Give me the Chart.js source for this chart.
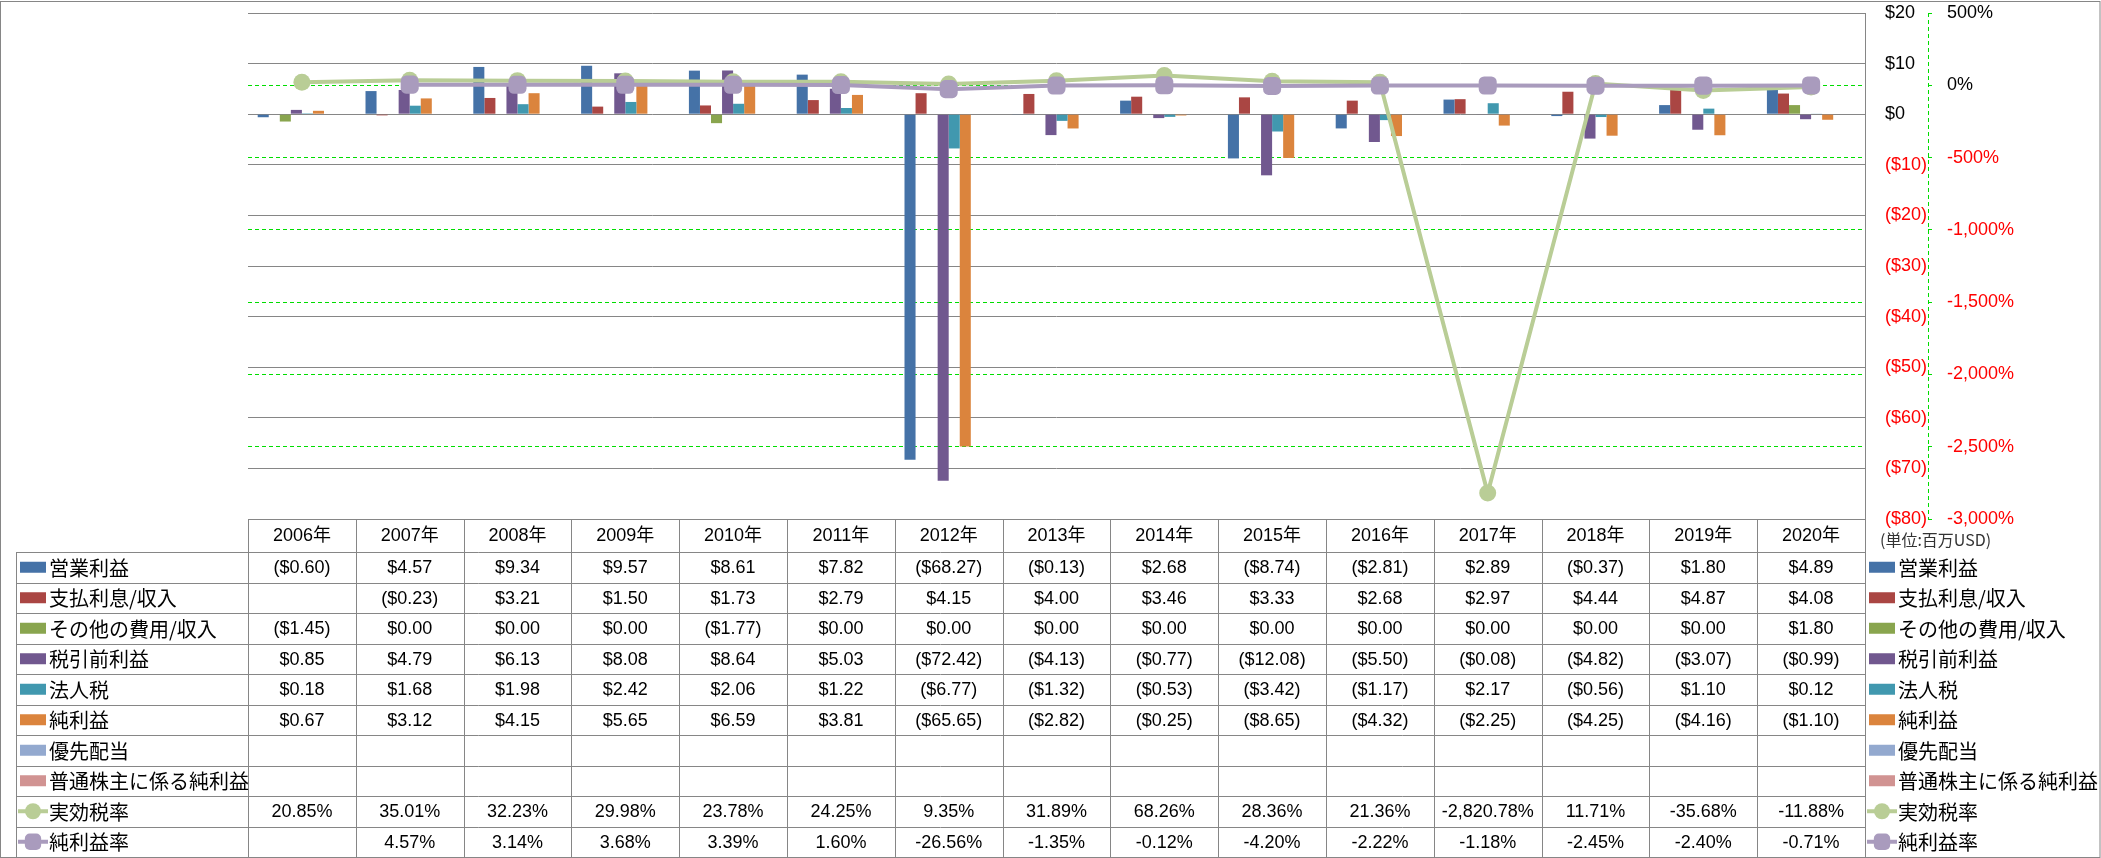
<!DOCTYPE html>
<html lang="ja">
<head>
<meta charset="utf-8">
<title>損益推移</title>
<script src="https://cdn.jsdelivr.net/npm/chart.js@4.4.1/dist/chart.umd.min.js"></script>
<style>
  html, body { margin: 0; padding: 0; background: #fff; }
  #wrap { width: 2101px; height: 858px; }
</style>
</head>
<body>
<div id="wrap"><canvas id="chart" width="2101" height="858"></canvas></div>
<script>
// ---- data (百万USD / %) ----
const years = ['2006年', '2007年', '2008年', '2009年', '2010年', '2011年', '2012年', '2013年',
               '2014年', '2015年', '2016年', '2017年', '2018年', '2019年', '2020年'];

const operatingIncome = [-0.60, 4.57, 9.34, 9.57, 8.61, 7.82, -68.27, -0.13, 2.68, -8.74, -2.81, 2.89, -0.37, 1.80, 4.89];
const interest        = [null, -0.23, 3.21, 1.50, 1.73, 2.79, 4.15, 4.00, 3.46, 3.33, 2.68, 2.97, 4.44, 4.87, 4.08];
const otherItems      = [-1.45, 0, 0, 0, -1.77, 0, 0, 0, 0, 0, 0, 0, 0, 0, 1.80];
const pretaxIncome    = [0.85, 4.79, 6.13, 8.08, 8.64, 5.03, -72.42, -4.13, -0.77, -12.08, -5.50, -0.08, -4.82, -3.07, -0.99];
const incomeTax       = [0.18, 1.68, 1.98, 2.42, 2.06, 1.22, -6.77, -1.32, -0.53, -3.42, -1.17, 2.17, -0.56, 1.10, 0.12];
const netIncome       = [0.67, 3.12, 4.15, 5.65, 6.59, 3.81, -65.65, -2.82, -0.25, -8.65, -4.32, -2.25, -4.25, -4.16, -1.10];
const preferredDiv    = [null, null, null, null, null, null, null, null, null, null, null, null, null, null, null];
const commonNetIncome = [null, null, null, null, null, null, null, null, null, null, null, null, null, null, null];
const effectiveTaxRate = [20.85, 35.01, 32.23, 29.98, 23.78, 24.25, 9.35, 31.89, 68.26, 28.36, 21.36, -2820.78, 11.71, -35.68, -11.88];
const netMargin        = [null, 4.57, 3.14, 3.68, 3.39, 1.60, -26.56, -1.35, -0.12, -4.20, -2.22, -1.18, -2.45, -2.40, -0.71];

const usdTicks = { min: -80, max: 20, step: 10 };
const pctTicks = { min: -3000, max: 500, step: 500 };

// ---- styles ----
const FONT = "'Liberation Sans', 'Noto Sans CJK JP', sans-serif";
const JP_FONT = "'Noto Sans CJK JP', 'Liberation Sans', sans-serif";
const GRID = '#868686';
const GREEN_DASH = '#00dd00';
const RED = '#ff0000';

const series = [
    { name: '営業利益',           data: operatingIncome, color: '#4572A7', kind: 'bar' },
    { name: '支払利息/収入',      data: interest,        color: '#AA4643', kind: 'bar' },
    { name: 'その他の費用/収入',  data: otherItems,      color: '#89A54E', kind: 'bar' },
    { name: '税引前利益',         data: pretaxIncome,    color: '#71588F', kind: 'bar' },
    { name: '法人税',             data: incomeTax,       color: '#4198AF', kind: 'bar' },
    { name: '純利益',             data: netIncome,       color: '#DB843D', kind: 'bar' },
    { name: '優先配当',           data: preferredDiv,    color: '#93A9CF', kind: 'bar' },
    { name: '普通株主に係る純利益', data: commonNetIncome, color: '#D19392', kind: 'bar' },
    { name: '実効税率',           data: effectiveTaxRate, color: '#B9CD96', kind: 'line', point: 'circle' },
    { name: '純利益率',           data: netMargin,       color: '#A99BBD', kind: 'line', point: 'rectRounded' }
];

function fmtUsd(v) {
    if (v === null || v === undefined) return '';
    const s = '$' + Math.abs(v).toFixed(2);
    return v < 0 ? '(' + s + ')' : s;
}
function fmtPct(v) {
    if (v === null || v === undefined) return '';
    return v.toLocaleString('en-US', { minimumFractionDigits: 2, maximumFractionDigits: 2 }) + '%';
}

// ---- datasets ----
const datasets = series.map(s => {
    if (s.kind === 'bar') {
        return {
            type: 'bar',
            label: s.name,
            data: s.data,
            backgroundColor: s.color,
            borderWidth: 0,
            yAxisID: 'y',
            categoryPercentage: 0.82,
            barPercentage: 1.0,
            order: 3
        };
    }
    return {
        type: 'line',
        label: s.name,
        data: s.data,
        borderColor: s.color,
        backgroundColor: s.color,
        borderWidth: 4,
        pointStyle: s.point,
        pointRadius: s.point === 'circle' ? 8.5 : 10.5,
        pointBorderWidth: 0,
        pointBackgroundColor: s.color,
        tension: 0,
        spanGaps: false,
        yAxisID: 'y1',
        order: s.point === 'circle' ? 2 : 1
    };
});

// ---- data table under the plot + outer frame ----
function drawMarker(ctx, s, x, y) {
    ctx.save();
    if (s.kind === 'bar') {
        ctx.fillStyle = s.color;
        ctx.fillRect(x, y - 5.5, 26, 11);
    } else {
        ctx.strokeStyle = s.color;
        ctx.lineWidth = 4;
        ctx.beginPath();
        ctx.moveTo(x - 2, y);
        ctx.lineTo(x + 28, y);
        ctx.stroke();
        ctx.fillStyle = s.color;
        Chart.helpers.drawPoint(ctx, {
            pointStyle: s.point,
            radius: s.point === 'circle' ? 8 : 9.5,
            rotation: 0,
            borderWidth: 0
        }, x + 13, y);
    }
    ctx.restore();
}

const tablePlugin = {
    id: 'dataTable',
    afterDraw(chart) {
        const { ctx, chartArea, scales } = chart;
        const x = scales.x;
        const head = chartArea.bottom;
        const headH = 33;
        const rowTop = head + headH;
        const rowH = (chart.height - 1 - rowTop) / series.length;
        const leftEdge = 16;
        const half = (x.getPixelForValue(1) - x.getPixelForValue(0)) / 2;
        const bounds = years.map((_, i) => x.getPixelForValue(i) - half);
        bounds.push(x.getPixelForValue(years.length - 1) + half);
        const right = bounds[bounds.length - 1];
        const px = v => Math.round(v) + 0.5;

        ctx.save();
        ctx.strokeStyle = GRID;
        ctx.lineWidth = 1;
        ctx.beginPath();
        // header row
        ctx.moveTo(bounds[0], px(head)); ctx.lineTo(right, px(head));
        bounds.forEach(b => { ctx.moveTo(px(b), head); ctx.lineTo(px(b), rowTop); });
        // body rows
        for (let r = 0; r <= series.length; r++) {
            const yy = px(rowTop + r * rowH);
            ctx.moveTo(leftEdge, yy); ctx.lineTo(right, yy);
        }
        [leftEdge].concat(bounds).forEach(b => {
            ctx.moveTo(px(b), rowTop); ctx.lineTo(px(b), chart.height - 1);
        });
        ctx.stroke();

        // outer frame
        ctx.strokeRect(0.5, 1.5, chart.width - 1.5, chart.height - 2);

        // header text
        ctx.fillStyle = '#000';
        ctx.textAlign = 'center';
        ctx.textBaseline = 'middle';
        ctx.font = '18px ' + FONT;
        years.forEach((yr, i) => ctx.fillText(yr, x.getPixelForValue(i), head + headH / 2 + 1));

        // unit note
        ctx.textAlign = 'left';
        ctx.font = '16px ' + JP_FONT;
        ctx.fillStyle = '#333';
        ctx.fillText('(単位:百万USD)', right + 15, head + headH / 2 + 4);

        // rows
        series.forEach((s, r) => {
            const cy = rowTop + r * rowH + rowH / 2;
            drawMarker(ctx, s, leftEdge + 4, cy);
            drawMarker(ctx, s, right + 4, cy);
            ctx.fillStyle = '#000';
            ctx.textAlign = 'left';
            ctx.font = '20px ' + JP_FONT;
            ctx.fillText(s.name, leftEdge + 33, cy + 1);
            ctx.fillText(s.name, right + 33, cy + 1);
            ctx.textAlign = 'center';
            ctx.font = '18px ' + FONT;
            const fmt = s.kind === 'bar' ? fmtUsd : fmtPct;
            s.data.forEach((v, i) => ctx.fillText(fmt(v), x.getPixelForValue(i), cy + 1));
        });

        // dashed secondary axis line
        const y1 = scales.y1;
        ctx.strokeStyle = GREEN_DASH;
        ctx.setLineDash([4, 3]);
        ctx.beginPath();
        ctx.moveTo(px(y1.left), y1.top);
        ctx.lineTo(px(y1.left), y1.bottom);
        ctx.stroke();
        ctx.restore();
    }
};

new Chart(document.getElementById('chart'), {
    data: { labels: years, datasets },
    options: {
        responsive: false,
        devicePixelRatio: 1,
        animation: false,
        layout: { padding: { left: 248, top: 13, right: 0, bottom: 339 } },
        plugins: { legend: { display: false }, tooltip: { enabled: false } },
        scales: {
            x: { display: false, offset: true },
            y: {
                position: 'right',
                min: usdTicks.min,
                max: usdTicks.max,
                afterFit: s => { s.width = 63; s.paddingTop = 0; s.paddingBottom = 0; },
                ticks: {
                    stepSize: usdTicks.step,
                    padding: 20,
                    font: { family: FONT, size: 18 },
                    color: c => c.tick.value < 0 ? RED : '#000',
                    callback: v => v < 0 ? '($' + Math.abs(v) + ')' : '$' + v
                },
                grid: { color: GRID, lineWidth: 1, drawTicks: false },
                border: { display: true, color: GRID, width: 1 }
            },
            y1: {
                position: 'right',
                min: pctTicks.min,
                max: pctTicks.max,
                afterFit: s => { s.width = 173; s.paddingTop = 0; s.paddingBottom = 0; },
                ticks: {
                    stepSize: pctTicks.step,
                    padding: 15,
                    font: { family: FONT, size: 18 },
                    color: c => c.tick.value < 0 ? RED : '#000',
                    callback: v => v.toLocaleString('en-US') + '%'
                },
                grid: {
                    color: c => (c.tick && (c.tick.value === pctTicks.max || c.tick.value === pctTicks.min)) ? 'rgba(0,0,0,0)' : GREEN_DASH,
                    lineWidth: 1,
                    borderDash: [4, 3],
                    drawTicks: true,
                    tickLength: 4,
                    tickColor: GREEN_DASH,
                    tickBorderDash: []
                },
                border: { display: false, dash: [4, 3] }
            }
        }
    },
    plugins: [tablePlugin]
});
</script>
</body>
</html>
